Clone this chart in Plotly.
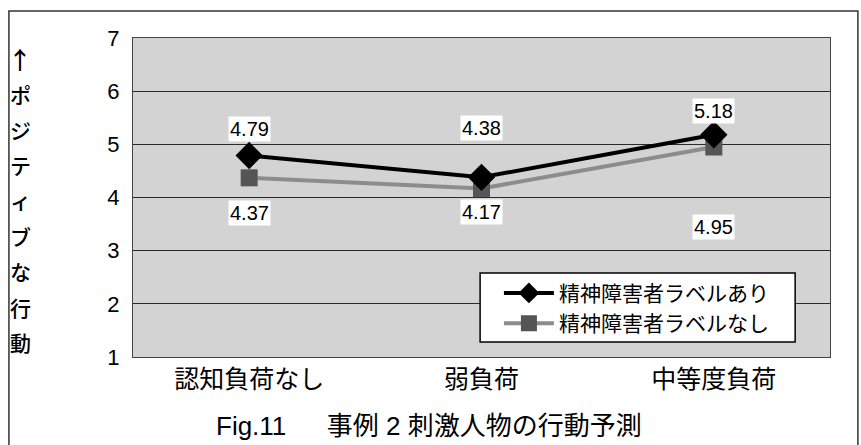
import plotly.graph_objects as go

# Data
categories = ["認知負荷なし", "弱負荷", "中等度負荷"]
with_label = [4.79, 4.38, 5.18]
without_label = [4.37, 4.17, 4.95]
series_names = ["精神障害者ラベルあり", "精神障害者ラベルなし"]
y_ticks = [1, 2, 3, 4, 5, 6, 7]
y_title = "↑ポジティブな行動"

NUM_FONT = "Liberation Sans, Arial"
JP_FONT = "Noto Sans CJK JP, Liberation Sans"

fig = go.Figure()
fig.add_trace(go.Scatter(
    x=categories, y=without_label, name=series_names[1],
    mode="lines+markers",
    line=dict(color="#8c8c8c", width=4),
    marker=dict(symbol="square", size=17, color="#555555"),
))
fig.add_trace(go.Scatter(
    x=categories, y=with_label, name=series_names[0],
    mode="lines+markers",
    line=dict(color="black", width=4),
    marker=dict(symbol="diamond", size=21, color="black"),
))

# value labels in white boxes
top_shift = [27, 49, 24]
bottom_shift = [-35, -24, -80]
for c, v, s in zip(categories, with_label, top_shift):
    fig.add_annotation(x=c, y=v, text=f"{v:.2f}", showarrow=False, yshift=s,
                       bgcolor="white", borderpad=1,
                       font=dict(family=NUM_FONT, size=20, color="black"))
for c, v, s in zip(categories, without_label, bottom_shift):
    fig.add_annotation(x=c, y=v, text=f"{v:.2f}", showarrow=False, yshift=s,
                       bgcolor="white", borderpad=1,
                       font=dict(family=NUM_FONT, size=20, color="black"))

# vertical axis title, one character per row
n = len(y_title)
top_y, bottom_y = 0.935, 0.047
for i, ch in enumerate(y_title):
    yy = top_y - (top_y - bottom_y) * i / (n - 1)
    fig.add_annotation(xref="paper", yref="paper", x=-0.162, y=yy,
                       xanchor="center", yanchor="middle", text=ch, showarrow=False,
                       font=dict(family=JP_FONT, size=21 if i else 24, color="black",
                                 weight=500))

# caption
fig.add_annotation(xref="paper", yref="paper", x=0.425, y=-0.162, xanchor="center", yanchor="top",
                   text="Fig.11　  事例 2 刺激人物の行動予測", showarrow=False,
                   font=dict(family="Liberation Sans, " + JP_FONT, size=26, color="black"))

# outer frame
fig.add_shape(type="rect", xref="paper", yref="paper", x0=-0.178, x1=1.04, y0=-0.4, y1=1.085,
              line=dict(color="#333", width=1.5), layer="below")

# legend frame (drawn over the gridlines)
fig.add_shape(type="rect", xref="paper", yref="paper", x0=0.498, x1=0.950, y0=0.047, y1=0.263,
              fillcolor="white", line=dict(color="black", width=1.5), layer="above")

fig.update_layout(
    width=861, height=445,
    margin=dict(l=133, r=31, t=38, b=88),
    paper_bgcolor="white", plot_bgcolor="#d3d3d3",
    showlegend=True,
    legend=dict(x=0.525, y=0.264, xanchor="left", yanchor="top",
                bgcolor="rgba(0,0,0,0)", borderwidth=0,
                traceorder="reversed",
                font=dict(family=JP_FONT, size=21, color="black"),
                itemwidth=50, tracegroupgap=0),
    xaxis=dict(type="category", range=[-0.5, 2.5], showgrid=False,
               showline=True, linecolor="#444", mirror=True, ticks="",
               tickfont=dict(family=JP_FONT, size=25, color="black")),
    yaxis=dict(range=[1, 7], tickvals=y_ticks, showgrid=True, gridcolor="#2a2a2a", gridwidth=1,
               showline=True, linecolor="#444", mirror=True, ticks="",
               zeroline=False, ticklabelstandoff=8,
               tickfont=dict(family=NUM_FONT, size=22, color="black")),
)

fig.write_html("out.html")
